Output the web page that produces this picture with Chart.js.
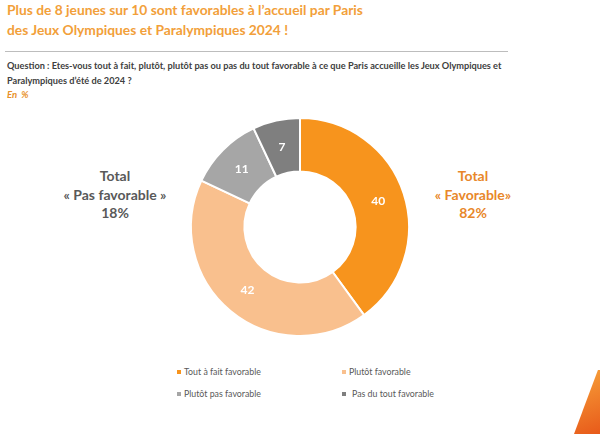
<!DOCTYPE html>
<html>
<head>
<meta charset="utf-8">
<script src="https://cdn.jsdelivr.net/npm/chart.js@4/dist/chart.umd.min.js"></script>
<style>
  body { margin: 0; background: #fff; font-family: Lato, "Open Sans", sans-serif; }
  #page { position: relative; width: 600px; height: 434px; overflow: hidden; }
  .abs { position: absolute; white-space: nowrap; }
  #title { left: 7px; top: 0px; font-size: 13.8px; font-weight: bold; color: #F2A03A; line-height: 20px; }
  #rule { left: 5px; top: 51px; width: 503px; height: 0; border-top: 1.5px solid #BDBDBD; }
  #question { left: 7px; top: 59px; font-size: 9.2px; font-weight: bold; color: #404040; line-height: 14.5px; }
  #unit { left: 7px; top: 89px; font-size: 9.5px; font-weight: bold; font-style: italic; color: #E8912B; }
  .total { font-size: 14px; font-weight: bold; line-height: 18.5px; text-align: center; width: 160px; }
  #left { left: 35px; top: 167px; color: #595959; }
  #right { left: 393px; top: 167px; color: #E8872A; }
  #chartBox { left: 180px; top: 107px; width: 240px; height: 240px; }
  .leg { font-size: 8.8px; color: #595959; }
  .sq { position: absolute; width: 4px; height: 4px; }
  #deco { left: 574px; top: 370px; width: 26px; height: 64px;
          background: linear-gradient(160deg, #F7A23A, #E85A1A);
          clip-path: polygon(92% 0, 100% 0, 100% 100%, 0 100%); }
</style>
</head>
<body>
<div id="page">
  <div id="title" class="abs">Plus de 8 jeunes sur 10 sont favorables à l’accueil par Paris<br>des Jeux Olympiques et Paralympiques 2024 !</div>
  <div id="rule" class="abs"></div>
  <div id="question" class="abs">Question : Etes-vous tout à fait, plutôt, plutôt pas ou pas du tout favorable à ce que Paris accueille les Jeux Olympiques et<br>Paralympiques d’été de 2024 ?</div>
  <div id="unit" class="abs">En&nbsp; %</div>
  <div id="left" class="abs total">Total<br>« Pas favorable »<br>18%</div>
  <div id="right" class="abs total">Total<br>« Favorable»<br>82%</div>
  <div id="chartBox" class="abs"><canvas id="myChart" width="240" height="240"></canvas></div>
  <div id="legend"></div>
  <div id="deco" class="abs"></div>
</div>
<script>
const labels = [
  'Tout à fait favorable',
  'Plutôt favorable',
  'Plutôt pas favorable',
  'Pas du tout favorable',
];
const values = [40, 42, 11, 7];
const colors = ['#F7941D', '#F9C08E', '#A6A6A6', '#7F7F7F'];

// legend positions (2 columns)
const legendPos = [
  { x: 177, y: 366 },
  { x: 342, y: 366 },
  { x: 177, y: 388 },
  { x: 342, y: 388 },
];
const legend = document.getElementById('legend');
labels.forEach((l, i) => {
  const p = legendPos[i];
  const sq = document.createElement('div');
  sq.className = 'sq';
  sq.style.left = p.x + 'px';
  sq.style.top = (p.y + 4) + 'px';
  sq.style.background = colors[i];
  legend.appendChild(sq);
  const t = document.createElement('div');
  t.className = 'abs leg';
  t.style.left = (p.x + (i == 3 ? 10 : 7)) + 'px';
  t.style.top = p.y + 'px';
  t.textContent = l;
  legend.appendChild(t);
});

const sliceLabels = {
  id: 'sliceLabels',
  afterDatasetsDraw(chart) {
    const ctx = chart.ctx;
    const meta = chart.getDatasetMeta(0);
    ctx.save();
    ctx.fillStyle = '#fff';
    ctx.font = 'bold 12px Lato, sans-serif';
    ctx.textAlign = 'center';
    ctx.textBaseline = 'middle';
    meta.data.forEach((arc, i) => {
      const pos = arc.tooltipPosition();
      ctx.fillText(values[i], pos.x, pos.y);
    });
    ctx.restore();
  }
};

const myChart = new Chart(document.getElementById('myChart'), {
  type: 'doughnut',
  data: {
    labels: labels,
    datasets: [{
      data: values,
      backgroundColor: colors,
      borderColor: '#fff',
      borderWidth: 2,
    }]
  },
  options: {
    responsive: false,
    animation: false,
    cutout: '51%',
    layout: { padding: 10 },
    plugins: {
      legend: { display: false },
      tooltip: { enabled: false },
    }
  },
  plugins: [sliceLabels]
});
</script>
</body>
</html>
